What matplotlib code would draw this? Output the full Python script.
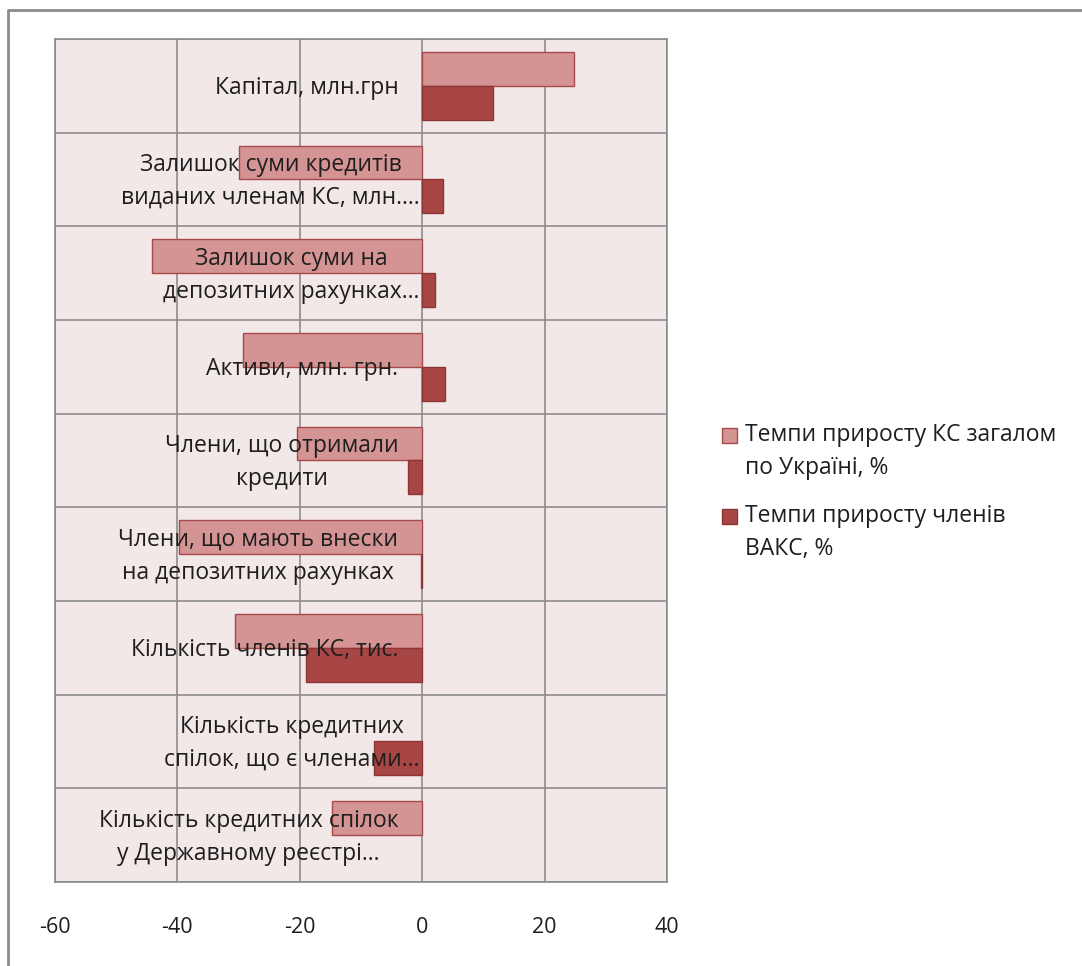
import matplotlib
matplotlib.use("Agg")
import matplotlib.pyplot as plt
from matplotlib.patches import Rectangle
from matplotlib.lines import Line2D
import numpy as np

categories = [
    "Капітал, млн.грн",
    "Залишок суми кредитів\nвиданих членам КС, млн.…",
    "Залишок суми на\nдепозитних рахунках…",
    "Активи, млн. грн.",
    "Члени, що отримали\nкредити",
    "Члени, що мають внески\nна депозитних рахунках",
    "Кількість членів КС, тис.",
    "Кількість кредитних\nспілок, що є членами…",
    "Кількість кредитних спілок\nу Державному реєстрі…",
]
series_names = ["Темпи приросту КС загалом\nпо Україні, %",
                "Темпи приросту членів\nВАКС, %"]
ks_ukraine = [24.8, -29.9, -44.1, -29.3, -20.5, -39.8, -30.6, 0.0, -14.8]
vaks = [11.6, 3.45, 2.1, 3.8, -2.4, -0.2, -19.0, -7.9, 0.0]
xticks = [-60, -40, -20, 0, 20, 40]

light_fc, light_ec = "#D49494", "#A8484A"
dark_fc, dark_ec = "#A84646", "#8E3636"
bg = "#F2E8E8"
grid_c = "#8C8C8C"
txt_c = "#1E1E1E"
FS = 16.5

plt.rcParams['font.family'] = ['Open Sans', 'DejaVu Sans']
W, H = 1082, 966
fig = plt.figure(figsize=(W/100, H/100), dpi=100)
ax = fig.add_axes([55/W, 1-882/H, (667-55)/W, (882-39)/H])
ax.set_facecolor(bg)

n = len(categories)
pos = np.arange(n)
bh = 0.36
ax.barh(pos - bh/2, ks_ukraine, height=bh, color=light_fc, edgecolor=light_ec,
        linewidth=[1 if v != 0 else 0 for v in ks_ukraine], zorder=3)
ax.barh(pos + bh/2, vaks, height=bh, color=dark_fc, edgecolor=dark_ec,
        linewidth=[1 if v != 0 else 0 for v in vaks], zorder=3)

ax.set_xlim(-60, 40)
ax.set_ylim(n - 0.5, -0.5)
ax.set_xticks(xticks)
ax.set_xticklabels([str(t) for t in xticks], fontsize=15.5, color=txt_c)
ax.tick_params(axis='x', length=0, pad=25)
ax.set_yticks([])
for x in xticks:
    ax.axvline(x, color=grid_c, lw=1.2, zorder=1)
for y in np.arange(-0.5, n + 0.5, 1):
    ax.axhline(y, color=grid_c, lw=1.2, zorder=1)
for s in ax.spines.values():
    s.set_color(grid_c)
    s.set_linewidth(1.2)

for i, c in enumerate(categories):
    lines = c.split("\n")
    xa = -3.9
    # truncated last line overflows the label box to the right (like Excel)
    if lines[-1].endswith("…") and len(lines[-1]) >= max(len(l) for l in lines):
        xa += 3.5
    ax.text(xa, i + 0.02, c, ha='right', va='center', multialignment='center',
            fontsize=FS, color=txt_c, linespacing=1.5, zorder=5)

# legend drawn manually
leg_items = [(series_names[0], light_fc, light_ec, 452),
             (series_names[1], dark_fc, dark_ec, 533)]
for name, fc, ec, yc in leg_items:
    first_line_y = yc - 16
    fig.patches.append(Rectangle((722/W, 1-(first_line_y+7)/H), 15/W, 15/H,
                                 transform=fig.transFigure, facecolor=fc,
                                 edgecolor=ec, linewidth=1))
    fig.text(745/W, 1-yc/H, name, ha='left', va='center', fontsize=FS,
             color=txt_c, linespacing=1.5)

# outer chart border
fig.add_artist(Line2D([8/W, 8/W, 1.0], [0.0, 1-10/H, 1-10/H],
                      transform=fig.transFigure, color="#8A8A8A", lw=2))

fig.savefig("out.png", dpi=100, facecolor="white")
